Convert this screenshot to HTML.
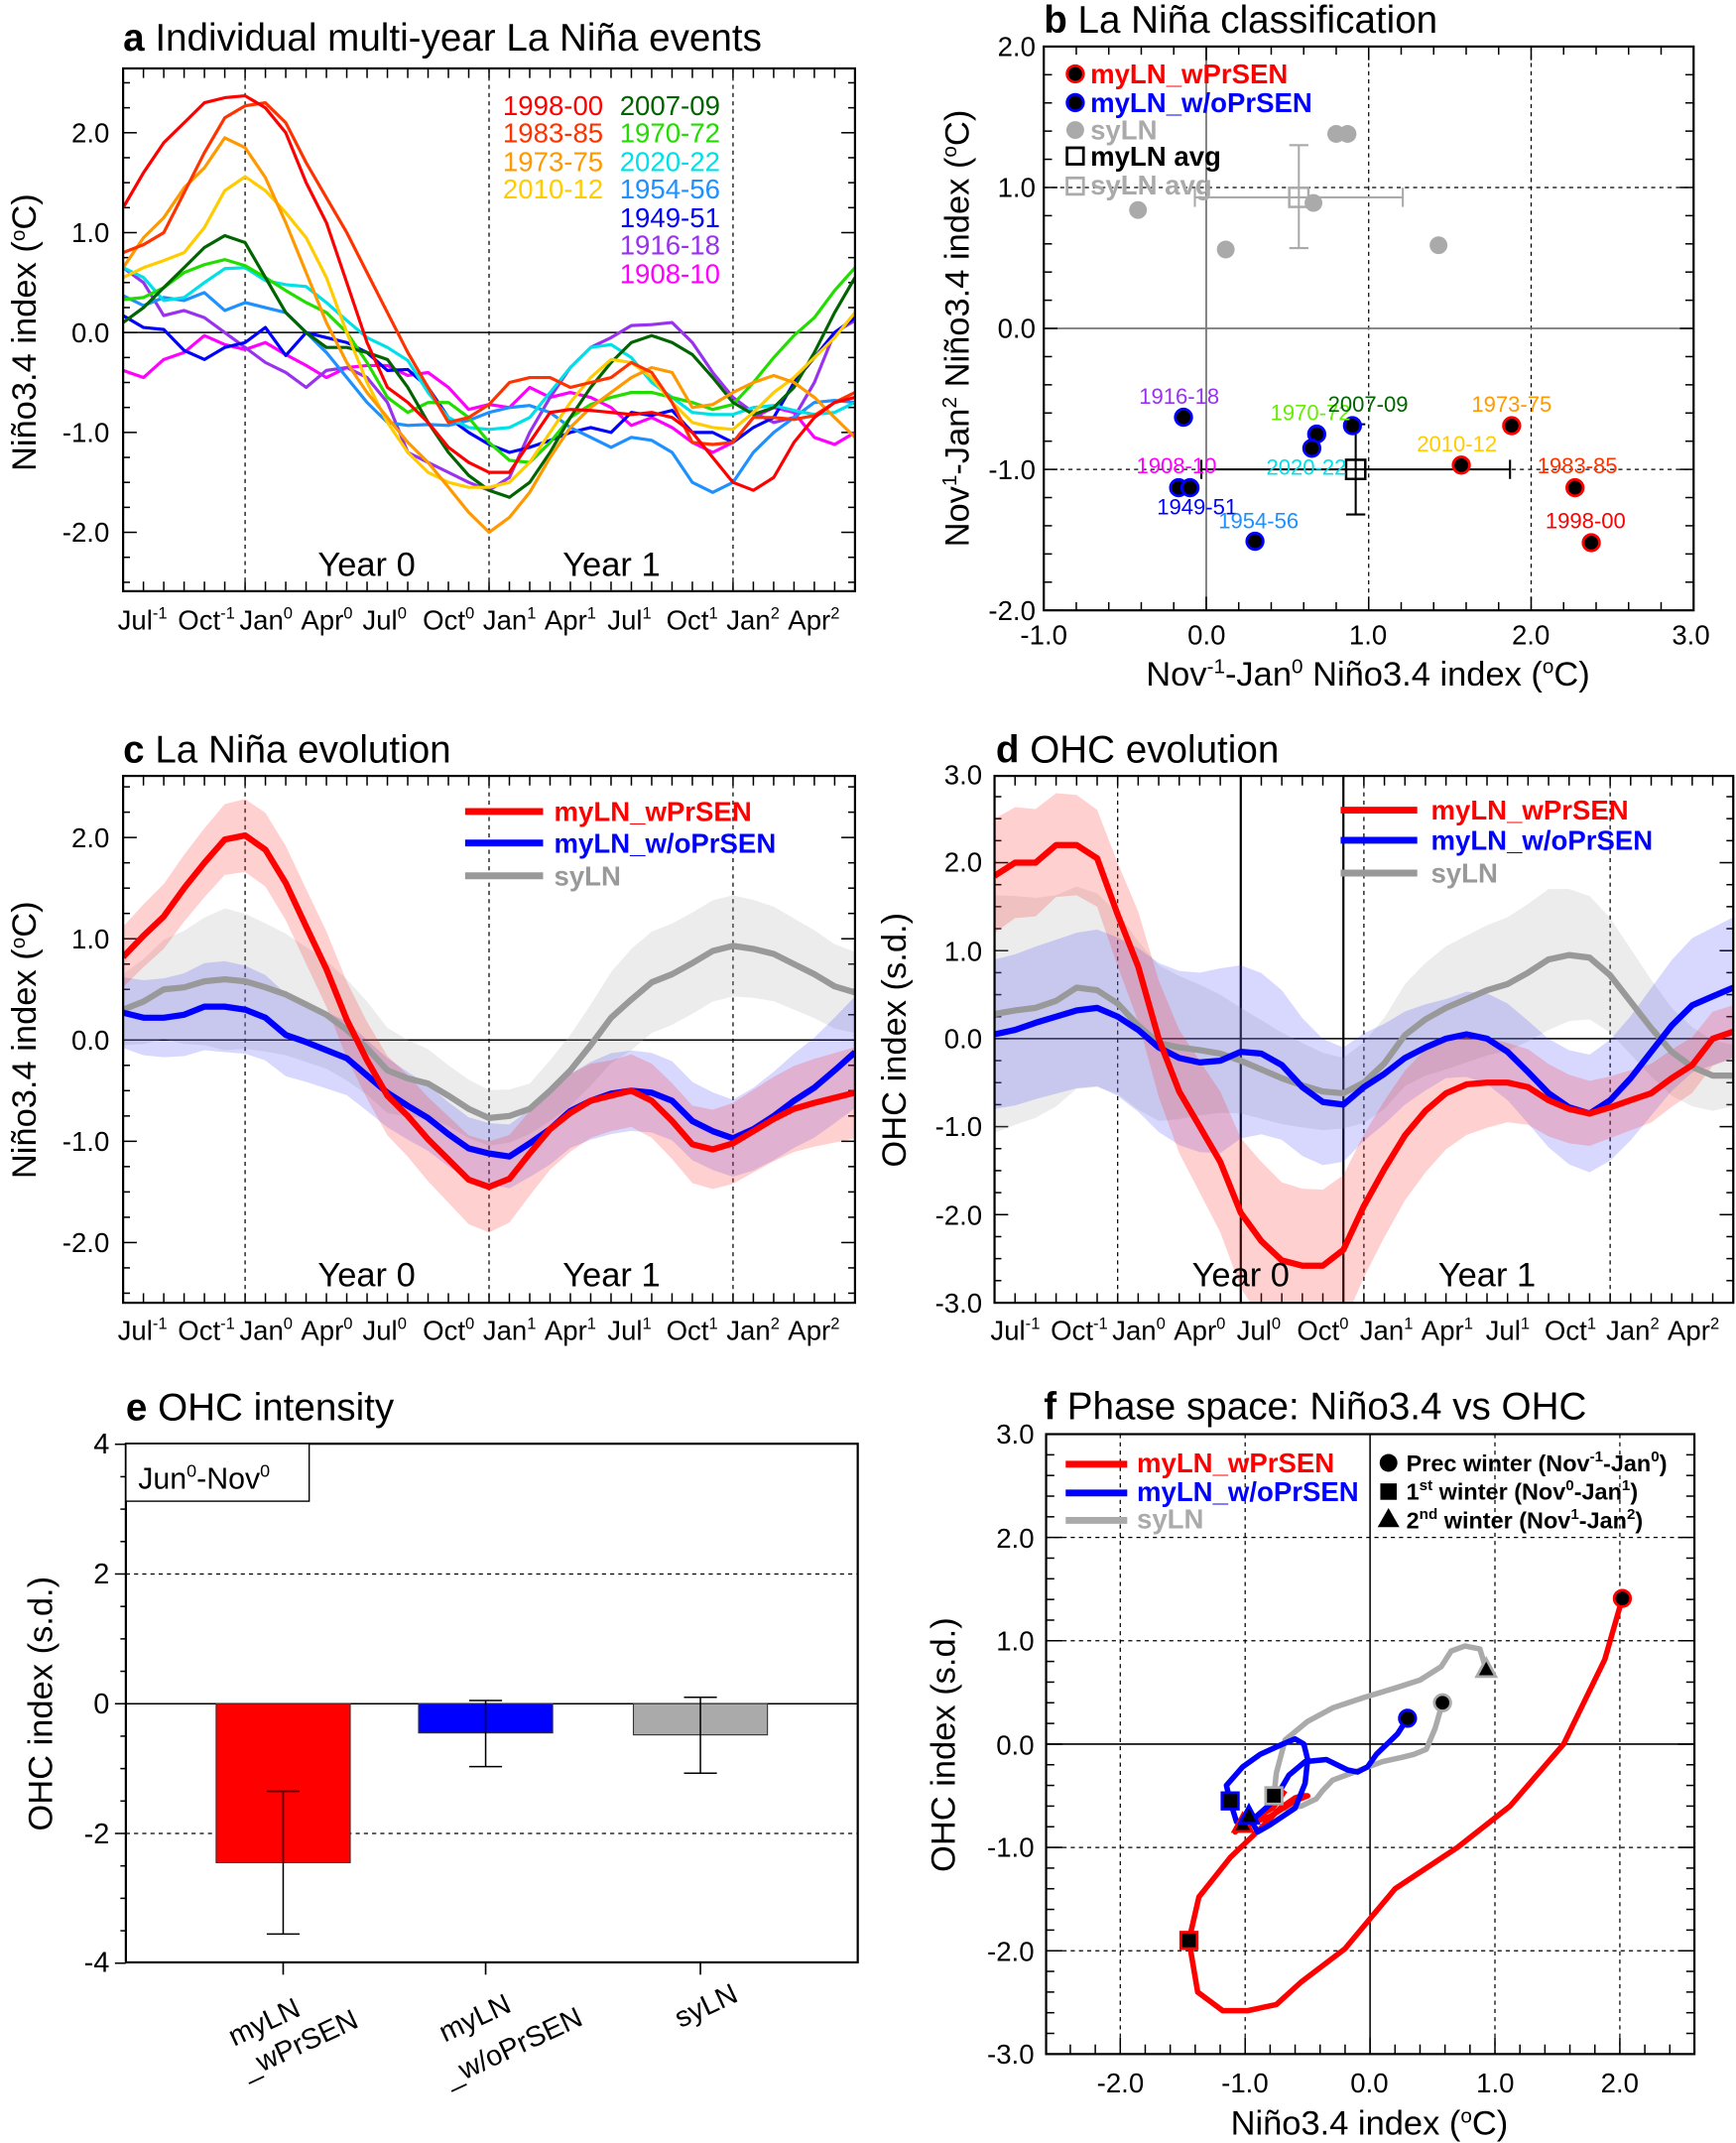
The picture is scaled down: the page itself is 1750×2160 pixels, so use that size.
<!DOCTYPE html>
<html><head><meta charset="utf-8">
<style>
html,body{margin:0;padding:0;background:#fff;}
svg{display:block;}
text{font-family:"Liberation Sans",Arial,sans-serif;}
.t{font-size:28px;}
.tk{font-size:20px;}
.al{font-size:25px;}
.lg{font-size:20px;font-weight:bold;}
</style></head>
<body>
<svg id="s" xmlns="http://www.w3.org/2000/svg" width="1750" height="2160" viewBox="0 0 1269 1566" preserveAspectRatio="none">
<defs>
<clipPath id="ca"><rect x="90" y="50" width="535" height="382"/></clipPath>
<clipPath id="cc"><rect x="90" y="567" width="535" height="385"/></clipPath>
<clipPath id="cd"><rect x="727" y="567" width="540" height="385"/></clipPath>
</defs>
<rect x="0" y="0" width="1269" height="1566" fill="#fff"/>
<g id="draw"></g>

<!-- Panel a texts -->
<text x="90" y="37" class="t"><tspan font-weight="bold">a</tspan>  Individual multi-year La Niña events</text>
<g class="tk" text-anchor="end">
<text x="80" y="104">2.0</text><text x="80" y="177">1.0</text><text x="80" y="250">0.0</text><text x="80" y="323">-1.0</text><text x="80" y="396">-2.0</text>
</g>
<g font-size="20" text-anchor="end">
<text x="441" y="84" fill="#ff0000">1998-00</text>
<text x="441" y="104" fill="#ff3300">1983-85</text>
<text x="441" y="125" fill="#ff9900">1973-75</text>
<text x="441" y="145" fill="#ffcc00">2010-12</text>
</g>
<g font-size="20">
<text x="453" y="84" fill="#006400">2007-09</text>
<text x="453" y="104" fill="#22dd00">1970-72</text>
<text x="453" y="125" fill="#00e0e8">2020-22</text>
<text x="453" y="145" fill="#1e90ff">1954-56</text>
<text x="453" y="166" fill="#0000ff">1949-51</text>
<text x="453" y="186" fill="#9932ee">1916-18</text>
<text x="453" y="207" fill="#ff00ff">1908-10</text>
</g>
<text x="268" y="421" font-size="25" text-anchor="middle">Year 0</text>
<text x="447" y="421" font-size="25" text-anchor="middle">Year 1</text>
<text transform="translate(26,243) rotate(-90)" class="al" text-anchor="middle">Niño3.4 index (<tspan dy="-8" font-size="15">o</tspan><tspan dy="8">C)</tspan></text>
<g class="tk">
<text x="86" y="460">Jul<tspan dy="-8" font-size="12">-1</tspan></text>
<text x="130" y="460">Oct<tspan dy="-8" font-size="12">-1</tspan></text>
<text x="175" y="460">Jan<tspan dy="-8" font-size="12">0</tspan></text>
<text x="220" y="460">Apr<tspan dy="-8" font-size="12">0</tspan></text>
<text x="265" y="460">Jul<tspan dy="-8" font-size="12">0</tspan></text>
<text x="309" y="460">Oct<tspan dy="-8" font-size="12">0</tspan></text>
<text x="353" y="460">Jan<tspan dy="-8" font-size="12">1</tspan></text>
<text x="398" y="460">Apr<tspan dy="-8" font-size="12">1</tspan></text>
<text x="444" y="460">Jul<tspan dy="-8" font-size="12">1</tspan></text>
<text x="487" y="460">Oct<tspan dy="-8" font-size="12">1</tspan></text>
<text x="531" y="460">Jan<tspan dy="-8" font-size="12">2</tspan></text>
<text x="576" y="460">Apr<tspan dy="-8" font-size="12">2</tspan></text>
</g>

<!-- Panel b texts -->
<text x="763" y="24" class="t"><tspan font-weight="bold">b</tspan>  La Niña classification</text>
<g class="tk" text-anchor="end">
<text x="757" y="41">2.0</text><text x="757" y="144">1.0</text><text x="757" y="247">0.0</text><text x="757" y="350">-1.0</text><text x="757" y="453">-2.0</text>
</g>
<g class="tk" text-anchor="middle">
<text x="763" y="471">-1.0</text><text x="882" y="471">0.0</text><text x="1000" y="471">1.0</text><text x="1119" y="471">2.0</text><text x="1236" y="471">3.0</text>
</g>
<text x="1000" y="501" class="al" text-anchor="middle">Nov<tspan dy="-9" font-size="15">-1</tspan><tspan dy="9">-Jan</tspan><tspan dy="-9" font-size="15">0</tspan><tspan dy="9"> Niño3.4 index (</tspan><tspan dy="-9" font-size="15">o</tspan><tspan dy="9">C)</tspan></text>
<text transform="translate(708,240) rotate(-90)" class="al" text-anchor="middle">Nov<tspan dy="-9" font-size="15">1</tspan><tspan dy="9">-Jan</tspan><tspan dy="-9" font-size="15">2</tspan><tspan dy="9"> Niño3.4 index (</tspan><tspan dy="-9" font-size="15">o</tspan><tspan dy="9">C)</tspan></text>
<g class="lg">
<text x="797" y="61" fill="#ff0000">myLN_wPrSEN</text>
<text x="797" y="82" fill="#0000ff">myLN_w/oPrSEN</text>
<text x="797" y="102" fill="#aaaaaa">syLN</text>
<text x="797" y="121" fill="#000">myLN avg</text>
<text x="797" y="142" fill="#aaaaaa">syLN avg</text>
</g>
<g font-size="16" text-anchor="middle">
<text x="862" y="295" fill="#9932ee">1916-18</text>
<text x="958" y="307" fill="#66ee00">1970-72</text>
<text x="1000" y="301" fill="#006400">2007-09</text>
<text x="1105" y="301" fill="#ff9900">1973-75</text>
<text x="1065" y="330" fill="#ffcc00">2010-12</text>
<text x="860" y="346" fill="#ff00ff">1908-10</text>
<text x="955" y="347" fill="#00e0e8">2020-22</text>
<text x="1153" y="346" fill="#ff3300">1983-85</text>
<text x="875" y="376" fill="#0000ff">1949-51</text>
<text x="920" y="386" fill="#1e90ff">1954-56</text>
<text x="1159" y="386" fill="#ff0000">1998-00</text>
</g>

<!-- Panel c texts -->
<text x="90" y="557" class="t"><tspan font-weight="bold">c</tspan>  La Niña evolution</text>
<g class="tk" text-anchor="end">
<text x="80" y="619">2.0</text><text x="80" y="693">1.0</text><text x="80" y="767">0.0</text><text x="80" y="841">-1.0</text><text x="80" y="915">-2.0</text>
</g>
<text x="268" y="940" font-size="25" text-anchor="middle">Year 0</text>
<text x="447" y="940" font-size="25" text-anchor="middle">Year 1</text>
<text transform="translate(26,760) rotate(-90)" class="al" text-anchor="middle">Niño3.4 index (<tspan dy="-8" font-size="15">o</tspan><tspan dy="8">C)</tspan></text>
<g class="lg" font-size="22">
<text x="405" y="600" fill="#ff0000">myLN_wPrSEN</text>
<text x="405" y="623" fill="#0000ff">myLN_w/oPrSEN</text>
<text x="405" y="647" fill="#999">syLN</text>
</g>
<g class="tk">
<text x="86" y="979">Jul<tspan dy="-8" font-size="12">-1</tspan></text>
<text x="130" y="979">Oct<tspan dy="-8" font-size="12">-1</tspan></text>
<text x="175" y="979">Jan<tspan dy="-8" font-size="12">0</tspan></text>
<text x="220" y="979">Apr<tspan dy="-8" font-size="12">0</tspan></text>
<text x="265" y="979">Jul<tspan dy="-8" font-size="12">0</tspan></text>
<text x="309" y="979">Oct<tspan dy="-8" font-size="12">0</tspan></text>
<text x="353" y="979">Jan<tspan dy="-8" font-size="12">1</tspan></text>
<text x="398" y="979">Apr<tspan dy="-8" font-size="12">1</tspan></text>
<text x="444" y="979">Jul<tspan dy="-8" font-size="12">1</tspan></text>
<text x="487" y="979">Oct<tspan dy="-8" font-size="12">1</tspan></text>
<text x="531" y="979">Jan<tspan dy="-8" font-size="12">2</tspan></text>
<text x="576" y="979">Apr<tspan dy="-8" font-size="12">2</tspan></text>
</g>

<!-- Panel d texts -->
<text x="728" y="557" class="t"><tspan font-weight="bold">d</tspan> OHC evolution</text>
<g class="tk" text-anchor="end">
<text x="718" y="573">3.0</text><text x="718" y="637">2.0</text><text x="718" y="702">1.0</text><text x="718" y="766">0.0</text><text x="718" y="830">-1.0</text><text x="718" y="895">-2.0</text><text x="718" y="959">-3.0</text>
</g>
<text x="907" y="940" font-size="25" text-anchor="middle">Year 0</text>
<text x="1087" y="940" font-size="25" text-anchor="middle">Year 1</text>
<text transform="translate(662,760) rotate(-90)" class="al" text-anchor="middle">OHC index (s.d.)</text>
<g class="lg" font-size="22">
<text x="1046" y="599" fill="#ff0000">myLN_wPrSEN</text>
<text x="1046" y="621" fill="#0000ff">myLN_w/oPrSEN</text>
<text x="1046" y="645" fill="#999">syLN</text>
</g>
<g class="tk">
<text x="724" y="979">Jul<tspan dy="-8" font-size="12">-1</tspan></text>
<text x="768" y="979">Oct<tspan dy="-8" font-size="12">-1</tspan></text>
<text x="813" y="979">Jan<tspan dy="-8" font-size="12">0</tspan></text>
<text x="858" y="979">Apr<tspan dy="-8" font-size="12">0</tspan></text>
<text x="904" y="979">Jul<tspan dy="-8" font-size="12">0</tspan></text>
<text x="948" y="979">Oct<tspan dy="-8" font-size="12">0</tspan></text>
<text x="994" y="979">Jan<tspan dy="-8" font-size="12">1</tspan></text>
<text x="1039" y="979">Apr<tspan dy="-8" font-size="12">1</tspan></text>
<text x="1086" y="979">Jul<tspan dy="-8" font-size="12">1</tspan></text>
<text x="1129" y="979">Oct<tspan dy="-8" font-size="12">1</tspan></text>
<text x="1174" y="979">Jan<tspan dy="-8" font-size="12">2</tspan></text>
<text x="1219" y="979">Apr<tspan dy="-8" font-size="12">2</tspan></text>
</g>

<!-- Panel e texts -->
<text x="92" y="1038" class="t"><tspan font-weight="bold">e</tspan>  OHC intensity</text>
<g font-size="21" text-anchor="end">
<text x="80" y="1062">4</text><text x="80" y="1157">2</text><text x="80" y="1252">0</text><text x="80" y="1347">-2</text><text x="80" y="1441">-4</text>
</g>
<text transform="translate(38,1245) rotate(-90)" class="al" text-anchor="middle">OHC index (s.d.)</text>
<g font-size="21" text-anchor="middle">
<text transform="translate(196,1484) rotate(-25)">myLN</text>
<text transform="translate(222,1500) rotate(-25)">_wPrSEN</text>
<text transform="translate(350,1481) rotate(-25)">myLN</text>
<text transform="translate(378,1502) rotate(-25)">_w/oPrSEN</text>
<text transform="translate(519,1472) rotate(-25)">syLN</text>
</g>

<!-- Panel f texts -->
<text x="763" y="1037" class="t"><tspan font-weight="bold">f</tspan>  Phase space: Niño3.4 vs OHC</text>
<g class="tk" text-anchor="end">
<text x="756" y="1055">3.0</text><text x="756" y="1131">2.0</text><text x="756" y="1206">1.0</text><text x="756" y="1282">0.0</text><text x="756" y="1357">-1.0</text><text x="756" y="1433">-2.0</text><text x="756" y="1508">-3.0</text>
</g>
<g class="tk" text-anchor="middle">
<text x="819" y="1529">-2.0</text><text x="910" y="1529">-1.0</text><text x="1001" y="1529">0.0</text><text x="1093" y="1529">1.0</text><text x="1184" y="1529">2.0</text>
</g>
<text x="1001" y="1560" class="al" text-anchor="middle">Niño3.4 index (<tspan dy="-9" font-size="15">o</tspan><tspan dy="9">C)</tspan></text>
<text transform="translate(698,1275) rotate(-90)" class="al" text-anchor="middle">OHC index (s.d.)</text>
<g class="lg" font-size="18">
<text x="831" y="1076" fill="#ff0000">myLN_wPrSEN</text>
<text x="831" y="1097" fill="#0000ff">myLN_w/oPrSEN</text>
<text x="831" y="1117" fill="#aaa">syLN</text>
</g>
<g font-size="17" font-weight="bold">
<text x="1028" y="1075">Prec winter (Nov<tspan dy="-7" font-size="11">-1</tspan><tspan dy="7">-Jan</tspan><tspan dy="-7" font-size="11">0</tspan><tspan dy="7">)</tspan></text>
<text x="1028" y="1096">1<tspan dy="-7" font-size="11">st</tspan><tspan dy="7"> winter (Nov</tspan><tspan dy="-7" font-size="11">0</tspan><tspan dy="7">-Jan</tspan><tspan dy="-7" font-size="11">1</tspan><tspan dy="7">)</tspan></text>
<text x="1028" y="1117">2<tspan dy="-7" font-size="11">nd</tspan><tspan dy="7"> winter (Nov</tspan><tspan dy="-7" font-size="11">1</tspan><tspan dy="7">-Jan</tspan><tspan dy="-7" font-size="11">2</tspan><tspan dy="7">)</tspan></text>
</g>
</svg>

<script>
(function(){
const NS='http://www.w3.org/2000/svg';
const G=document.getElementById('draw');
function el(tag,a,p){const e=document.createElementNS(NS,tag);for(const k in a)e.setAttribute(k,a[k]);(p||G).appendChild(e);return e;}
function P(pts){return 'M'+pts.map(p=>p[0].toFixed(1)+','+p[1].toFixed(1)).join('L');}
function line(x1,y1,x2,y2,st,w,dash,p){return el('line',{x1,y1,x2,y2,stroke:st||'#000','stroke-width':w||1,'stroke-dasharray':dash||'none'},p);}

function tsFrame(x0,y0,x1,y1,ymin,ymax,ymaj,yminor,yf,xfun,dashIdx){
  dashIdx.forEach(i=>line(xfun(i),y0,xfun(i),y1,'#000',0.9,'3,3'));
  line(x0,yf(0),x1,yf(0),'#000',1.1);
  for(let i=0;i<=36;i++){const x=xfun(i);line(x,y0,x,y0+7,'#000',1.1);line(x,y1,x,y1-7,'#000',1.1);}
  for(let v=Math.ceil(ymin/yminor)*yminor; v<=ymax+1e-6; v+=yminor){
    const y=yf(v);if(y<y0-0.5||y>y1+0.5)continue;
    const maj=Math.abs(v/ymaj-Math.round(v/ymaj))<1e-6;
    const L=maj?10:5;
    line(x0,y,x0+L,y,'#000',1.1);line(x1,y,x1-L,y,'#000',1.1);
  }
}

const xa=i=>90+i*535/36, ya=v=>243-73*v;
const A=[
['#ff00ff',[-0.38,-0.45,-0.27,-0.2,-0.03,-0.12,-0.17,-0.1,-0.22,-0.33,-0.45,-0.35,-0.33,-0.33,-0.43,-0.4,-0.55,-0.77,-0.72,-0.75,-0.55,-0.65,-0.6,-0.65,-0.75,-0.93,-0.85,-0.95,-1.1,-1.2,-1.1,-0.85,-0.75,-0.8,-1.05,-1.12,-1.0]],
['#9932ee',[0.65,0.5,0.17,0.22,0.15,0.0,-0.15,-0.3,-0.4,-0.55,-0.38,-0.35,-0.45,-0.7,-1.2,-1.3,-1.4,-1.5,-1.58,-1.45,-1.0,-0.65,-0.35,-0.15,-0.05,0.07,0.08,0.1,-0.1,-0.4,-0.65,-0.8,-0.9,-0.85,-0.5,0.0,0.12]],
['#0000ff',[0.17,0.05,0.03,-0.18,-0.27,-0.15,-0.1,0.05,-0.23,0.0,-0.05,-0.1,-0.2,-0.38,-0.37,-0.55,-0.85,-1.0,-1.12,-1.2,-1.15,-1.08,-1.0,-0.95,-1.0,-0.8,-0.83,-0.78,-1.0,-1.0,-1.1,-0.95,-0.85,-0.5,-0.25,0.0,0.15]],
['#1e90ff',[0.37,0.27,0.35,0.32,0.4,0.22,0.3,0.25,0.2,0.0,-0.2,-0.45,-0.7,-0.9,-0.93,-0.92,-0.93,-0.88,-0.8,-0.75,-0.73,-0.8,-0.95,-1.05,-1.15,-1.05,-1.08,-1.2,-1.5,-1.6,-1.5,-1.2,-1.0,-0.85,-0.7,-0.68,-0.7]],
['#00e0e8',[0.65,0.55,0.32,0.35,0.5,0.64,0.65,0.52,0.48,0.46,0.3,0.12,-0.05,-0.15,-0.28,-0.6,-0.85,-0.95,-0.97,-0.95,-0.85,-0.6,-0.35,-0.15,-0.12,-0.25,-0.5,-0.65,-0.8,-0.82,-0.82,-0.75,-0.73,-0.78,-0.82,-0.8,-0.7]],
['#22dd00',[0.33,0.35,0.45,0.6,0.68,0.73,0.67,0.55,0.42,0.3,0.2,0.0,-0.3,-0.65,-0.8,-0.7,-0.7,-0.85,-1.1,-1.28,-1.3,-1.1,-0.85,-0.72,-0.65,-0.6,-0.6,-0.65,-0.7,-0.77,-0.72,-0.5,-0.25,-0.03,0.15,0.42,0.65]],
['#006400',[0.1,0.25,0.45,0.65,0.85,0.97,0.9,0.55,0.2,0.0,-0.15,-0.15,-0.2,-0.27,-0.55,-0.9,-1.2,-1.43,-1.58,-1.65,-1.5,-1.2,-0.85,-0.55,-0.3,-0.1,-0.03,-0.1,-0.22,-0.45,-0.7,-0.82,-0.75,-0.55,-0.2,0.2,0.55]],
['#ffcc00',[0.55,0.65,0.72,0.8,1.05,1.42,1.56,1.42,1.2,0.95,0.55,0.0,-0.5,-0.9,-1.2,-1.4,-1.5,-1.55,-1.55,-1.5,-1.3,-1.0,-0.7,-0.45,-0.27,-0.3,-0.45,-0.7,-0.9,-0.95,-0.97,-0.8,-0.6,-0.45,-0.25,-0.05,0.2]],
['#ff9900',[0.65,0.95,1.15,1.45,1.65,1.95,1.85,1.55,1.1,0.6,0.1,-0.3,-0.6,-0.85,-1.1,-1.3,-1.55,-1.8,-2.0,-1.85,-1.6,-1.25,-0.95,-0.75,-0.6,-0.45,-0.35,-0.4,-0.75,-0.72,-0.6,-0.5,-0.43,-0.5,-0.65,-0.85,-1.05]],
['#ff3300',[0.8,0.88,1.0,1.4,1.8,2.15,2.27,2.3,2.1,1.7,1.35,1.0,0.6,0.2,-0.2,-0.55,-0.9,-0.85,-0.72,-0.5,-0.45,-0.45,-0.55,-0.5,-0.45,-0.3,-0.4,-0.7,-1.1,-1.12,-1.1,-0.85,-0.85,-0.87,-0.83,-0.7,-0.6]],
['#ff0000',[1.25,1.6,1.9,2.1,2.3,2.35,2.37,2.25,2.0,1.5,1.1,0.5,-0.1,-0.55,-0.7,-0.9,-1.15,-1.3,-1.4,-1.4,-1.1,-0.8,-0.77,-0.78,-0.8,-0.82,-0.8,-0.85,-1.0,-1.25,-1.5,-1.58,-1.45,-1.1,-0.85,-0.7,-0.65]]
];
tsFrame(90,50,625,432,-2.6,2.6,1,0.25,ya,xa,[6,18,30]);
const ga=el('g',{'clip-path':'url(#ca)'});
A.forEach(s=>el('path',{d:P(s[1].map((v,i)=>[xa(i),ya(v)])),fill:'none',stroke:s[0],'stroke-width':2.3,'stroke-linejoin':'round'},ga));
el('rect',{x:90,y:50,width:535,height:382,fill:'none',stroke:'#000','stroke-width':1.6});

const cR=[0.82,1.03,1.22,1.5,1.75,1.98,2.02,1.88,1.55,1.12,0.7,0.2,-0.2,-0.55,-0.75,-0.98,-1.18,-1.38,-1.45,-1.37,-1.12,-0.88,-0.72,-0.6,-0.55,-0.5,-0.6,-0.8,-1.03,-1.08,-1.02,-0.9,-0.78,-0.68,-0.62,-0.57,-0.52];
const cB=[0.27,0.22,0.22,0.25,0.33,0.33,0.3,0.22,0.05,-0.02,-0.1,-0.18,-0.35,-0.52,-0.65,-0.77,-0.93,-1.07,-1.12,-1.15,-1.02,-0.88,-0.7,-0.6,-0.53,-0.5,-0.52,-0.6,-0.8,-0.9,-0.97,-0.88,-0.75,-0.6,-0.47,-0.3,-0.12];
const cG=[0.3,0.38,0.5,0.52,0.58,0.6,0.58,0.52,0.45,0.35,0.25,0.1,-0.08,-0.3,-0.38,-0.43,-0.55,-0.68,-0.77,-0.75,-0.68,-0.5,-0.3,-0.05,0.22,0.4,0.57,0.65,0.76,0.88,0.93,0.9,0.85,0.75,0.65,0.53,0.47];
const dR=[1.85,2.0,2.0,2.2,2.2,2.05,1.41,0.82,0.0,-0.6,-1.0,-1.4,-1.98,-2.3,-2.52,-2.58,-2.58,-2.4,-1.9,-1.48,-1.1,-0.82,-0.62,-0.52,-0.5,-0.5,-0.55,-0.7,-0.8,-0.85,-0.78,-0.7,-0.62,-0.45,-0.3,0.0,0.08];
const dB=[0.05,0.1,0.18,0.25,0.32,0.35,0.25,0.1,-0.1,-0.22,-0.27,-0.25,-0.15,-0.17,-0.3,-0.55,-0.72,-0.75,-0.55,-0.4,-0.22,-0.1,0.0,0.05,0.0,-0.15,-0.38,-0.62,-0.78,-0.85,-0.7,-0.45,-0.15,0.15,0.38,0.48,0.58];
const dG=[0.28,0.32,0.35,0.43,0.58,0.55,0.4,0.15,-0.05,-0.1,-0.13,-0.17,-0.25,-0.35,-0.45,-0.53,-0.6,-0.62,-0.5,-0.28,0.04,0.22,0.35,0.45,0.55,0.62,0.75,0.9,0.95,0.92,0.72,0.42,0.12,-0.15,-0.32,-0.42,-0.42];
function interp(knots){const o=[];for(let i=0;i<=36;i++){for(let k=0;k<knots.length-1;k++){const a=knots[k],b=knots[k+1];if(i>=a[0]&&i<=b[0]){o.push(a[1]+(b[1]-a[1])*(i-a[0])/(b[0]-a[0]));break;}}}return o;}
function band(g,xf,yf,m,w,col){
  const up=m.map((v,i)=>[xf(i),yf(v+w[i])]);const lo=m.map((v,i)=>[xf(i),yf(v-w[i])]).reverse();
  el('path',{d:P(up.concat(lo))+'Z',fill:col,stroke:'none'},g);
}
const xc=xa, yc=v=>760-74*v;
tsFrame(90,567,625,952,-2.6,2.6,1,0.25,yc,xc,[6,18,30]);
const gc=el('g',{'clip-path':'url(#cc)'});
band(gc,xc,yc,cG,interp([[0,0.35],[5,0.7],[11,0.5],[16,0.3],[20,0.25],[25,0.5],[30,0.5],[36,0.4]]),'rgba(170,170,170,0.22)');
band(gc,xc,yc,cB,interp([[0,0.35],[5,0.45],[12,0.35],[18,0.3],[24,0.4],[30,0.38],[36,0.55]]),'rgba(60,60,255,0.2)');
band(gc,xc,yc,cR,interp([[0,0.3],[6,0.36],[12,0.38],[18,0.45],[24,0.35],[30,0.4],[36,0.45]]),'rgba(255,40,40,0.22)');
[[cG,'#999'],[cB,'#0000ff'],[cR,'#ff0000']].forEach(s=>el('path',{d:P(s[0].map((v,i)=>[xc(i),yc(v)])),fill:'none',stroke:s[1],'stroke-width':4.5,'stroke-linejoin':'round'},gc));
el('rect',{x:90,y:567,width:535,height:385,fill:'none',stroke:'#000','stroke-width':1.6});
[[593,'#ff0000'],[616,'#0000ff'],[640,'#999']].forEach(a=>line(340,a[0],397,a[0],a[1],5));

const xd=i=>727+i*15, yd=v=>759-64.3*v;
line(xd(12),567,xd(12),952,'#000',1.6);line(xd(17),567,xd(17),952,'#000',1.6);
tsFrame(727,567,1267,952,-3,3,1,0.25,yd,xd,[6,18,30]);
const gd=el('g',{'clip-path':'url(#cd)'});
band(gd,xd,yd,dG,interp([[0,1.35],[5,1.1],[12,0.6],[17,0.4],[22,0.7],[27,0.8],[31,0.6],[36,0.35]]),'rgba(170,170,170,0.22)');
band(gd,xd,yd,dB,interp([[0,0.85],[6,0.9],[11,1.05],[17,0.65],[22,0.45],[28,0.65],[36,0.8]]),'rgba(60,60,255,0.2)');
band(gd,xd,yd,dR,interp([[0,0.65],[5,0.55],[9,0.7],[13,0.9],[17,0.85],[21,0.7],[25,0.45],[30,0.35],[36,0.3]]),'rgba(255,40,40,0.22)');
[[dG,'#999'],[dB,'#0000ff'],[dR,'#ff0000']].forEach(s=>el('path',{d:P(s[0].map((v,i)=>[xd(i),yd(v)])),fill:'none',stroke:s[1],'stroke-width':4.5,'stroke-linejoin':'round'},gd));
el('rect',{x:727,y:567,width:540,height:385,fill:'none',stroke:'#000','stroke-width':1.6});
[[592,'#ff0000'],[614,'#0000ff'],[638,'#999']].forEach(a=>line(980,a[0],1036,a[0],a[1],5));

const xb=v=>881.75+118.75*v, yb=v=>240-103*v;
line(xb(1),34,xb(1),446,'#000',0.9,'3,3');line(xb(2),34,xb(2),446,'#000',0.9,'3,3');
line(763,yb(1),1238,yb(1),'#000',0.9,'3,3');line(763,yb(-1),1238,yb(-1),'#000',0.9,'3,3');
line(xb(0),34,xb(0),446,'#777',1.3);line(763,yb(0),1238,yb(0),'#777',1.3);
for(let v=-1;v<=3.001;v+=0.2){const x=xb(v);const maj=Math.abs(v-Math.round(v))<1e-6;const L=maj?10:6;line(x,446,x,446-L,'#000',1.1);line(x,34,x,34+L,'#000',1.1);}
for(let v=-2;v<=2.001;v+=0.2){const y=yb(v);const maj=Math.abs(v-Math.round(v))<1e-6;const L=maj?10:6;line(763,y,763+L,y,'#000',1.1);line(1238,y,1238-L,y,'#000',1.1);}
const gcol='#aaa';
line(xb(-0.07),yb(0.93),xb(1.21),yb(0.93),gcol,1.5);line(xb(-0.07),yb(0.93)-7,xb(-0.07),yb(0.93)+7,gcol,1.5);line(xb(1.21),yb(0.93)-7,xb(1.21),yb(0.93)+7,gcol,1.5);
line(xb(0.57),yb(1.3),xb(0.57),yb(0.57),gcol,1.5);line(xb(0.57)-7,yb(1.3),xb(0.57)+7,yb(1.3),gcol,1.5);line(xb(0.57)-7,yb(0.57),xb(0.57)+7,yb(0.57),gcol,1.5);
el('rect',{x:xb(0.57)-7,y:yb(0.93)-7,width:14,height:14,fill:'none',stroke:gcol,'stroke-width':1.8});
[[-0.42,0.84],[0.12,0.56],[0.8,1.38],[0.87,1.38],[0.66,0.89],[1.43,0.59]].forEach(p=>el('circle',{cx:xb(p[0]),cy:yb(p[1]),r:6.5,fill:'#aaa'}));
line(xb(-0.03),yb(-1),xb(1.87),yb(-1),'#000',1.5);line(xb(-0.03),yb(-1)-7,xb(-0.03),yb(-1)+7,'#000',1.5);line(xb(1.87),yb(-1)-7,xb(1.87),yb(-1)+7,'#000',1.5);
line(xb(0.92),yb(-0.68),xb(0.92),yb(-1.32),'#000',1.5);line(xb(0.92)-7,yb(-0.68),xb(0.92)+7,yb(-0.68),'#000',1.5);line(xb(0.92)-7,yb(-1.32),xb(0.92)+7,yb(-1.32),'#000',1.5);
el('rect',{x:xb(0.92)-7,y:yb(-1)-7,width:14,height:14,fill:'none',stroke:'#000','stroke-width':1.8});
[[-0.14,-0.63],[-0.17,-1.13],[-0.1,-1.13],[0.3,-1.51],[0.68,-0.75],[0.65,-0.85],[0.9,-0.69]].forEach(p=>el('circle',{cx:xb(p[0]),cy:yb(p[1]),r:6,fill:'#000',stroke:'#0000ff','stroke-width':2}));
[[1.57,-0.97],[1.88,-0.69],[2.27,-1.13],[2.37,-1.52]].forEach(p=>el('circle',{cx:xb(p[0]),cy:yb(p[1]),r:6,fill:'#000',stroke:'#ff0000','stroke-width':2}));
el('rect',{x:763,y:34,width:475,height:412,fill:'none',stroke:'#000','stroke-width':1.6});
el('circle',{cx:786,cy:54,r:6,fill:'#000',stroke:'#f00','stroke-width':2});
el('circle',{cx:786,cy:75,r:6,fill:'#000',stroke:'#00f','stroke-width':2});
el('circle',{cx:786,cy:95,r:6.5,fill:'#aaa'});
el('rect',{x:780,y:108,width:12,height:12,fill:'none',stroke:'#000','stroke-width':2});
el('rect',{x:780,y:130,width:12,height:12,fill:'none',stroke:'#aaa','stroke-width':2});

const ye=v=>1245-47.4*v;
line(92,ye(2),627,ye(2),'#000',0.9,'3,3');line(92,ye(-2),627,ye(-2),'#000',0.9,'3,3');
line(92,ye(0),627,ye(0),'#000',1.1);
for(let v=-4;v<=4.001;v+=0.5){const maj=Math.abs(v/2-Math.round(v/2))<1e-6;line(maj?84:88,ye(v),92,ye(v),'#000',1.1);}
function bar(cx,val,lo,hi,col){
  el('rect',{x:cx-49,y:ye(0),width:98,height:ye(val)-ye(0),fill:col,stroke:'#333','stroke-width':0.8});
  line(cx,ye(hi),cx,ye(lo),'#000',1.1);line(cx-12,ye(hi),cx+12,ye(hi),'#000',1.1);line(cx-12,ye(lo),cx+12,ye(lo),'#000',1.1);
  line(cx,1434,cx,1443,'#000',1.2);
}
bar(207,-2.45,-3.55,-1.35,'#ff0000');bar(355,-0.45,-0.97,0.05,'#0000ff');bar(512,-0.48,-1.07,0.1,'#aaaaaa');
el('rect',{x:92,y:1055,width:535,height:379,fill:'none',stroke:'#000','stroke-width':1.6});
el('rect',{x:92,y:1055,width:134,height:42,fill:'#fff',stroke:'#000','stroke-width':1});
const tt=el('text',{x:101,y:1088,'font-size':22});
tt.innerHTML='Jun<tspan dy="-9" font-size="13">0</tspan><tspan dy="9">-Nov</tspan><tspan dy="-9" font-size="13">0</tspan>';

const xf=v=>1001.5+91.3*v, yf=v=>1274.5-75.5*v;
[-2,-1,1,2].forEach(v=>{line(xf(v),1048,xf(v),1501,'#000',0.9,'3,3');line(764.7,yf(v),1238.6,yf(v),'#000',0.9,'3,3');});
line(xf(0),1048,xf(0),1501,'#000',1.1);line(764.7,yf(0),1238.6,yf(0),'#000',1.1);
for(let v=-2.6;v<=2.6;v+=0.2){const x=xf(v);if(x<765||x>1238)continue;const maj=Math.abs(v-Math.round(v))<1e-6;const L=maj?12:7;line(x,1501,x,1501-L,'#000',1.1);}
for(let v=-3;v<=3.001;v+=0.2){const y=yf(v);const maj=Math.abs(v-Math.round(v))<1e-6;const L=maj?12:6;line(764.7,y,764.7+L,y,'#000',1.1);line(1238.6,y,1238.6-L,y,'#000',1.1);}
function traj(cx,dy,col,i0,i1){const pts=[];for(let i=i0;i<=i1;i++)pts.push([xf(cx[i]),yf(dy[i])]);el('path',{d:P(pts),fill:'none',stroke:col,'stroke-width':4,'stroke-linejoin':'round'});}
traj(cG,dG,'#aaa',6,30);traj(cR,dR,'#ff0000',6,33);traj(cB,dB,'#0000ff',6,30);
function mk(type,x,y,edge){
  const X=xf(x),Y=yf(y);
  if(type==0)el('circle',{cx:X,cy:Y,r:6,fill:'#000',stroke:edge,'stroke-width':2});
  if(type==1)el('rect',{x:X-6,y:Y-6,width:12,height:12,fill:'#000',stroke:edge,'stroke-width':2});
  if(type==2)el('path',{d:`M${X},${Y-8}L${X+7},${Y+5}L${X-7},${Y+5}Z`,fill:'#000',stroke:edge,'stroke-width':2});
}
mk(0,cR[6],dR[6],'#f00');mk(1,cR[18],dR[18],'#f00');mk(2,cR[30],dR[30],'#f00');
mk(0,cB[6],dB[6],'#00f');mk(1,cB[18],dB[18],'#00f');mk(2,cB[30],dB[30],'#00f');
mk(0,cG[6],dG[6],'#aaa');mk(1,cG[18],dG[18],'#aaa');mk(2,cG[30],dG[30],'#aaa');
el('rect',{x:764.7,y:1048,width:473.9,height:453,fill:'none',stroke:'#000','stroke-width':1.6});
[[1070,'#ff0000'],[1091,'#0000ff'],[1111,'#aaa']].forEach(a=>line(779,a[0],824,a[0],a[1],5));
el('circle',{cx:1015,cy:1069,r:6.5,fill:'#000'});
el('rect',{x:1009,y:1084,width:12,height:12,fill:'#000'});
el('path',{d:'M1015,1102L1023,1116L1007,1116Z',fill:'#000'});
})();
</script>
</body></html>
